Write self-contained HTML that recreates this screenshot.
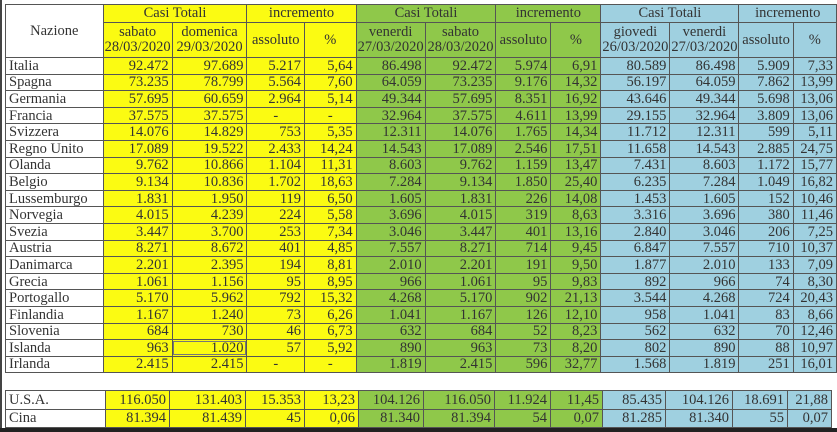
<!DOCTYPE html>
<html><head><meta charset="utf-8"><style>
body{margin:0;width:837px;height:432px;background:#fff;position:relative;overflow:hidden;font-family:"Liberation Serif",serif;}
table{position:absolute;left:5px;border-collapse:collapse;table-layout:fixed;font-size:14.5px;color:#333;}
td{border:1px solid #555;padding:0 3px;text-align:right;white-space:nowrap;overflow:hidden;line-height:14px;}
td.n{text-align:left;background:#fff;}
.y{background:#fbfb12;}.g{background:#8fc84a;}.b{background:#9fd0e0;}
.h td{text-align:center;line-height:15px;font-size:14.5px;padding:0 1px;}
#t1 tr{height:16.6px;}
#t2 tr{height:18.5px;}
.bot{position:absolute;left:0;top:428px;width:837px;height:4px;background:#222;}
.lft{position:absolute;left:0;top:0;width:2px;height:432px;background:#444;}
</style></head><body>
<div class="lft"></div>
<table id="t1" style="top:4px">
<colgroup><col style="width:100px"><col style="width:64px"><col style="width:76px"><col style="width:59px"><col style="width:54px"><col style="width:65px"><col style="width:71px"><col style="width:56px"><col style="width:52px"><col style="width:63px"><col style="width:67px"><col style="width:55px"><col style="width:44px"></colgroup>
<tr class="h" style="height:18px"><td class="n" rowspan="2" style="text-align:center">Nazione</td><td class="y" colspan="2">Casi Totali</td><td class="y" colspan="2">incremento</td><td class="g" colspan="2">Casi Totali</td><td class="g" colspan="2">incremento</td><td class="b" colspan="2">Casi Totali</td><td class="b" colspan="2">incremento</td></tr>
<tr class="h" style="height:35px"><td class="y">sabato<br>28/03/2020</td><td class="y">domenica<br>29/03/2020</td><td class="y">assoluto</td><td class="y">%</td><td class="g">venerdi<br>27/03/2020</td><td class="g">sabato<br>28/03/2020</td><td class="g">assoluto</td><td class="g">%</td><td class="b">giovedi<br>26/03/2020</td><td class="b">venerdi<br>27/03/2020</td><td class="b">assoluto</td><td class="b">%</td></tr>
<tr><td class="n">Italia</td><td class="y">92.472</td><td class="y">97.689</td><td class="y">5.217</td><td class="y">5,64</td><td class="g">86.498</td><td class="g">92.472</td><td class="g">5.974</td><td class="g">6,91</td><td class="b">80.589</td><td class="b">86.498</td><td class="b">5.909</td><td class="b">7,33</td></tr>
<tr><td class="n">Spagna</td><td class="y">73.235</td><td class="y">78.799</td><td class="y">5.564</td><td class="y">7,60</td><td class="g">64.059</td><td class="g">73.235</td><td class="g">9.176</td><td class="g">14,32</td><td class="b">56.197</td><td class="b">64.059</td><td class="b">7.862</td><td class="b">13,99</td></tr>
<tr><td class="n">Germania</td><td class="y">57.695</td><td class="y">60.659</td><td class="y">2.964</td><td class="y">5,14</td><td class="g">49.344</td><td class="g">57.695</td><td class="g">8.351</td><td class="g">16,92</td><td class="b">43.646</td><td class="b">49.344</td><td class="b">5.698</td><td class="b">13,06</td></tr>
<tr><td class="n">Francia</td><td class="y">37.575</td><td class="y">37.575</td><td class="y" style="text-align:center">-</td><td class="y" style="text-align:center">-</td><td class="g">32.964</td><td class="g">37.575</td><td class="g">4.611</td><td class="g">13,99</td><td class="b">29.155</td><td class="b">32.964</td><td class="b">3.809</td><td class="b">13,06</td></tr>
<tr><td class="n">Svizzera</td><td class="y">14.076</td><td class="y">14.829</td><td class="y">753</td><td class="y">5,35</td><td class="g">12.311</td><td class="g">14.076</td><td class="g">1.765</td><td class="g">14,34</td><td class="b">11.712</td><td class="b">12.311</td><td class="b">599</td><td class="b">5,11</td></tr>
<tr><td class="n">Regno Unito</td><td class="y">17.089</td><td class="y">19.522</td><td class="y">2.433</td><td class="y">14,24</td><td class="g">14.543</td><td class="g">17.089</td><td class="g">2.546</td><td class="g">17,51</td><td class="b">11.658</td><td class="b">14.543</td><td class="b">2.885</td><td class="b">24,75</td></tr>
<tr><td class="n">Olanda</td><td class="y">9.762</td><td class="y">10.866</td><td class="y">1.104</td><td class="y">11,31</td><td class="g">8.603</td><td class="g">9.762</td><td class="g">1.159</td><td class="g">13,47</td><td class="b">7.431</td><td class="b">8.603</td><td class="b">1.172</td><td class="b">15,77</td></tr>
<tr><td class="n">Belgio</td><td class="y">9.134</td><td class="y">10.836</td><td class="y">1.702</td><td class="y">18,63</td><td class="g">7.284</td><td class="g">9.134</td><td class="g">1.850</td><td class="g">25,40</td><td class="b">6.235</td><td class="b">7.284</td><td class="b">1.049</td><td class="b">16,82</td></tr>
<tr><td class="n">Lussemburgo</td><td class="y">1.831</td><td class="y">1.950</td><td class="y">119</td><td class="y">6,50</td><td class="g">1.605</td><td class="g">1.831</td><td class="g">226</td><td class="g">14,08</td><td class="b">1.453</td><td class="b">1.605</td><td class="b">152</td><td class="b">10,46</td></tr>
<tr><td class="n">Norvegia</td><td class="y">4.015</td><td class="y">4.239</td><td class="y">224</td><td class="y">5,58</td><td class="g">3.696</td><td class="g">4.015</td><td class="g">319</td><td class="g">8,63</td><td class="b">3.316</td><td class="b">3.696</td><td class="b">380</td><td class="b">11,46</td></tr>
<tr><td class="n">Svezia</td><td class="y">3.447</td><td class="y">3.700</td><td class="y">253</td><td class="y">7,34</td><td class="g">3.046</td><td class="g">3.447</td><td class="g">401</td><td class="g">13,16</td><td class="b">2.840</td><td class="b">3.046</td><td class="b">206</td><td class="b">7,25</td></tr>
<tr><td class="n">Austria</td><td class="y">8.271</td><td class="y">8.672</td><td class="y">401</td><td class="y">4,85</td><td class="g">7.557</td><td class="g">8.271</td><td class="g">714</td><td class="g">9,45</td><td class="b">6.847</td><td class="b">7.557</td><td class="b">710</td><td class="b">10,37</td></tr>
<tr><td class="n">Danimarca</td><td class="y">2.201</td><td class="y">2.395</td><td class="y">194</td><td class="y">8,81</td><td class="g">2.010</td><td class="g">2.201</td><td class="g">191</td><td class="g">9,50</td><td class="b">1.877</td><td class="b">2.010</td><td class="b">133</td><td class="b">7,09</td></tr>
<tr><td class="n">Grecia</td><td class="y">1.061</td><td class="y">1.156</td><td class="y">95</td><td class="y">8,95</td><td class="g">966</td><td class="g">1.061</td><td class="g">95</td><td class="g">9,83</td><td class="b">892</td><td class="b">966</td><td class="b">74</td><td class="b">8,30</td></tr>
<tr><td class="n">Portogallo</td><td class="y">5.170</td><td class="y">5.962</td><td class="y">792</td><td class="y">15,32</td><td class="g">4.268</td><td class="g">5.170</td><td class="g">902</td><td class="g">21,13</td><td class="b">3.544</td><td class="b">4.268</td><td class="b">724</td><td class="b">20,43</td></tr>
<tr><td class="n">Finlandia</td><td class="y">1.167</td><td class="y">1.240</td><td class="y">73</td><td class="y">6,26</td><td class="g">1.041</td><td class="g">1.167</td><td class="g">126</td><td class="g">12,10</td><td class="b">958</td><td class="b">1.041</td><td class="b">83</td><td class="b">8,66</td></tr>
<tr><td class="n">Slovenia</td><td class="y">684</td><td class="y">730</td><td class="y">46</td><td class="y">6,73</td><td class="g">632</td><td class="g">684</td><td class="g">52</td><td class="g">8,23</td><td class="b">562</td><td class="b">632</td><td class="b">70</td><td class="b">12,46</td></tr>
<tr><td class="n">Islanda</td><td class="y">963</td><td class="y" style="outline:1px solid #777;outline-offset:-2px">1.020</td><td class="y">57</td><td class="y">5,92</td><td class="g">890</td><td class="g">963</td><td class="g">73</td><td class="g">8,20</td><td class="b">802</td><td class="b">890</td><td class="b">88</td><td class="b">10,97</td></tr>
<tr><td class="n">Irlanda</td><td class="y">2.415</td><td class="y">2.415</td><td class="y" style="text-align:center">-</td><td class="y" style="text-align:center">-</td><td class="g">1.819</td><td class="g">2.415</td><td class="g">596</td><td class="g">32,77</td><td class="b">1.568</td><td class="b">1.819</td><td class="b">251</td><td class="b">16,01</td></tr>
</table>
<table id="t2" style="top:390px">
<colgroup><col style="width:100px"><col style="width:64px"><col style="width:76px"><col style="width:59px"><col style="width:54px"><col style="width:65px"><col style="width:71px"><col style="width:56px"><col style="width:52px"><col style="width:63px"><col style="width:67px"><col style="width:55px"><col style="width:44px"></colgroup>
<tr><td class="n">U.S.A.</td><td class="y">116.050</td><td class="y">131.403</td><td class="y">15.353</td><td class="y">13,23</td><td class="g">104.126</td><td class="g">116.050</td><td class="g">11.924</td><td class="g">11,45</td><td class="b">85.435</td><td class="b">104.126</td><td class="b">18.691</td><td class="b">21,88</td></tr>
<tr><td class="n">Cina</td><td class="y">81.394</td><td class="y">81.439</td><td class="y">45</td><td class="y">0,06</td><td class="g">81.340</td><td class="g">81.394</td><td class="g">54</td><td class="g">0,07</td><td class="b">81.285</td><td class="b">81.340</td><td class="b">55</td><td class="b">0,07</td></tr>
</table>
<div class="bot"></div>
</body></html>
